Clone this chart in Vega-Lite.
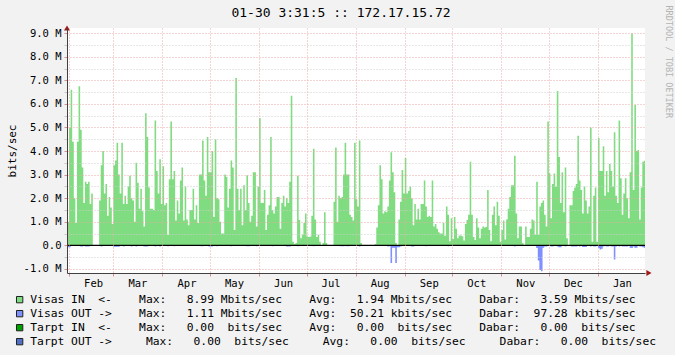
{
 "$schema": "https://vega.github.io/schema/vega-lite/v6.json",
 "width": 578,
 "height": 245,
 "autosize": {"type": "none"},
 "padding": {"left": 67, "top": 28, "right": 30, "bottom": 82},
 "background": "#f2f2f2",
 "config": {
  "view": {"fill": "#ffffff", "stroke": null},
  "font": "DejaVu Sans Mono",
  "axis": {"labelFont": "DejaVu Sans Mono", "titleFont": "DejaVu Sans Mono", "labelColor": "#000000", "titleColor": "#000000", "titleFontWeight": "normal"}
 },
 "title": {"text": "01-30 3:31:5 :: 172.17.15.72", "font": "DejaVu Sans Mono", "fontSize": 13, "fontWeight": "normal", "color": "#000000", "anchor": "middle", "dx": -15, "dy": 21, "offset": 6},
 "datasets": {
  "traffic": [
   {"t":"2013-01-30","i":2.35,"o":0},{"t":"2013-01-31","i":1.0,"o":-0.08},
   {"t":"2013-02-01","i":5.0,"o":-0.08},{"t":"2013-02-02","i":6.6,"o":-0.03},{"t":"2013-02-03","i":4.4,"o":0},{"t":"2013-02-04","i":2.0,"o":0},{"t":"2013-02-05","i":0.95,"o":0},{"t":"2013-02-06","i":4.4,"o":0},{"t":"2013-02-07","i":6.75,"o":0},{"t":"2013-02-08","i":4.9,"o":-0.05},{"t":"2013-02-09","i":3.3,"o":-0.05},{"t":"2013-02-10","i":1.8,"o":0},{"t":"2013-02-11","i":2.7,"o":-0.05},{"t":"2013-02-12","i":2.6,"o":-0.05},{"t":"2013-02-13","i":2.7,"o":-0.05},{"t":"2013-02-14","i":1.75,"o":0},{"t":"2013-02-15","i":2.2,"o":0},{"t":"2013-02-16","i":0,"o":0},{"t":"2013-02-17","i":0,"o":0},{"t":"2013-02-18","i":0,"o":0},{"t":"2013-02-19","i":0,"o":0},{"t":"2013-02-20","i":1.9,"o":0},{"t":"2013-02-21","i":3.4,"o":-0.05},{"t":"2013-02-22","i":4.0,"o":0},{"t":"2013-02-23","i":2.2,"o":0},{"t":"2013-02-24","i":2.6,"o":0},{"t":"2013-02-25","i":1.25,"o":0},{"t":"2013-02-26","i":2.05,"o":0},{"t":"2013-02-27","i":1.6,"o":0},{"t":"2013-02-28","i":0.9,"o":0},
   {"t":"2013-03-01","i":3.4,"o":-0.06},{"t":"2013-03-02","i":3.6,"o":-0.06},{"t":"2013-03-03","i":4.35,"o":-0.06},{"t":"2013-03-04","i":3.0,"o":-0.06},{"t":"2013-03-05","i":2.2,"o":0},{"t":"2013-03-06","i":4.35,"o":0},{"t":"2013-03-07","i":1.75,"o":-0.05},{"t":"2013-03-08","i":2.1,"o":0},{"t":"2013-03-09","i":1.75,"o":0},{"t":"2013-03-10","i":2.5,"o":0},{"t":"2013-03-11","i":2.95,"o":0},{"t":"2013-03-12","i":2.0,"o":-0.05},{"t":"2013-03-13","i":1.9,"o":0},{"t":"2013-03-14","i":1.0,"o":0},{"t":"2013-03-15","i":3.5,"o":-0.05},{"t":"2013-03-16","i":2.65,"o":0},{"t":"2013-03-17","i":1.55,"o":0},{"t":"2013-03-18","i":2.4,"o":0},{"t":"2013-03-19","i":1.45,"o":0},{"t":"2013-03-20","i":0.8,"o":-0.05},{"t":"2013-03-21","i":5.6,"o":-0.05},{"t":"2013-03-22","i":4.6,"o":-0.05},{"t":"2013-03-23","i":2.45,"o":0},{"t":"2013-03-24","i":1.55,"o":0},{"t":"2013-03-25","i":1.55,"o":0},{"t":"2013-03-26","i":1.5,"o":0},{"t":"2013-03-27","i":5.3,"o":-0.05},{"t":"2013-03-28","i":3.15,"o":0},{"t":"2013-03-29","i":2.2,"o":0},{"t":"2013-03-30","i":3.65,"o":-0.05},{"t":"2013-03-31","i":1.75,"o":0},
   {"t":"2013-04-01","i":3.35,"o":0},{"t":"2013-04-02","i":1.7,"o":0},{"t":"2013-04-03","i":1.8,"o":0},{"t":"2013-04-04","i":0.45,"o":-0.04},{"t":"2013-04-05","i":2.8,"o":0},{"t":"2013-04-06","i":5.25,"o":0},{"t":"2013-04-07","i":2.8,"o":0},{"t":"2013-04-08","i":3.15,"o":-0.04},{"t":"2013-04-09","i":1.05,"o":0},{"t":"2013-04-10","i":1.9,"o":0},{"t":"2013-04-11","i":1.35,"o":0},{"t":"2013-04-12","i":2.75,"o":0},{"t":"2013-04-13","i":3.3,"o":0},{"t":"2013-04-14","i":1.05,"o":0},{"t":"2013-04-15","i":2.5,"o":0},{"t":"2013-04-16","i":1.1,"o":0},{"t":"2013-04-17","i":0.85,"o":0},{"t":"2013-04-18","i":1.5,"o":0},{"t":"2013-04-19","i":1.5,"o":0},{"t":"2013-04-20","i":2.4,"o":0},{"t":"2013-04-21","i":1.1,"o":0},{"t":"2013-04-22","i":1.7,"o":0},{"t":"2013-04-23","i":0.95,"o":0},{"t":"2013-04-24","i":3.0,"o":0},{"t":"2013-04-25","i":3.0,"o":-0.04},{"t":"2013-04-26","i":4.45,"o":-0.04},{"t":"2013-04-27","i":2.75,"o":0},{"t":"2013-04-28","i":2.1,"o":0},{"t":"2013-04-29","i":4.6,"o":0},{"t":"2013-04-30","i":3.1,"o":-0.05},
   {"t":"2013-05-01","i":3.1,"o":-0.05},{"t":"2013-05-02","i":4.0,"o":-0.05},{"t":"2013-05-03","i":1.2,"o":0},{"t":"2013-05-04","i":4.5,"o":0},{"t":"2013-05-05","i":2.0,"o":-0.04},{"t":"2013-05-06","i":1.95,"o":0},{"t":"2013-05-07","i":1.0,"o":0},{"t":"2013-05-08","i":0.5,"o":0},{"t":"2013-05-09","i":0.5,"o":0},{"t":"2013-05-10","i":3.0,"o":0},{"t":"2013-05-11","i":2.9,"o":0},{"t":"2013-05-12","i":1.6,"o":0},{"t":"2013-05-13","i":2.4,"o":0},{"t":"2013-05-14","i":3.6,"o":-0.04},{"t":"2013-05-15","i":3.3,"o":0},{"t":"2013-05-16","i":0.65,"o":0},{"t":"2013-05-17","i":7.1,"o":0},{"t":"2013-05-18","i":2.4,"o":0},{"t":"2013-05-19","i":1.5,"o":0},{"t":"2013-05-20","i":2.4,"o":0},{"t":"2013-05-21","i":0.85,"o":0},{"t":"2013-05-22","i":2.55,"o":0},{"t":"2013-05-23","i":1.5,"o":0},{"t":"2013-05-24","i":2.97,"o":-0.04},{"t":"2013-05-25","i":1.8,"o":-0.04},{"t":"2013-05-26","i":1.0,"o":0},{"t":"2013-05-27","i":1.25,"o":0},{"t":"2013-05-28","i":3.1,"o":0},{"t":"2013-05-29","i":3.1,"o":0},{"t":"2013-05-30","i":0.8,"o":-0.04},{"t":"2013-05-31","i":2.5,"o":0},
   {"t":"2013-06-01","i":5.4,"o":0},{"t":"2013-06-02","i":1.8,"o":0},{"t":"2013-06-03","i":1.8,"o":0},{"t":"2013-06-04","i":2.35,"o":0},{"t":"2013-06-05","i":0.65,"o":0},{"t":"2013-06-06","i":1.3,"o":0},{"t":"2013-06-07","i":1.7,"o":0},{"t":"2013-06-08","i":4.6,"o":0},{"t":"2013-06-09","i":1.5,"o":-0.04},{"t":"2013-06-10","i":1.35,"o":0},{"t":"2013-06-11","i":1.65,"o":0},{"t":"2013-06-12","i":2.05,"o":0},{"t":"2013-06-13","i":2.05,"o":0},{"t":"2013-06-14","i":0.7,"o":0},{"t":"2013-06-15","i":1.8,"o":0},{"t":"2013-06-16","i":2.1,"o":0},{"t":"2013-06-17","i":1.65,"o":0},{"t":"2013-06-18","i":2.0,"o":-0.05},{"t":"2013-06-19","i":1.8,"o":-0.05},{"t":"2013-06-20","i":2.7,"o":-0.05},{"t":"2013-06-21","i":6.35,"o":0},{"t":"2013-06-22","i":0.15,"o":0},{"t":"2013-06-23","i":0.05,"o":0},{"t":"2013-06-24","i":0.1,"o":0},{"t":"2013-06-25","i":2.95,"o":-0.04},{"t":"2013-06-26","i":1.07,"o":0},{"t":"2013-06-27","i":0.3,"o":0},{"t":"2013-06-28","i":0.45,"o":0},{"t":"2013-06-29","i":0.95,"o":0},{"t":"2013-06-30","i":1.35,"o":0},
   {"t":"2013-07-01","i":0.37,"o":0},{"t":"2013-07-02","i":0.35,"o":0},{"t":"2013-07-03","i":0.37,"o":0},{"t":"2013-07-04","i":1.25,"o":0},{"t":"2013-07-05","i":4.1,"o":-0.04},{"t":"2013-07-06","i":1.1,"o":0},{"t":"2013-07-07","i":0.35,"o":0},{"t":"2013-07-08","i":0.45,"o":0},{"t":"2013-07-09","i":0.15,"o":0},{"t":"2013-07-10","i":0,"o":0},{"t":"2013-07-11","i":0.1,"o":0},{"t":"2013-07-12","i":1.4,"o":0},{"t":"2013-07-13","i":0.1,"o":0},{"t":"2013-07-14","i":0,"o":0},{"t":"2013-07-15","i":0,"o":0},{"t":"2013-07-16","i":0,"o":0},{"t":"2013-07-17","i":0,"o":0},{"t":"2013-07-18","i":1.85,"o":0},{"t":"2013-07-19","i":4.15,"o":0},{"t":"2013-07-20","i":1.0,"o":0},{"t":"2013-07-21","i":2.1,"o":0},{"t":"2013-07-22","i":2.0,"o":-0.04},{"t":"2013-07-23","i":2.05,"o":-0.04},{"t":"2013-07-24","i":3.0,"o":-0.04},{"t":"2013-07-25","i":4.35,"o":0},{"t":"2013-07-26","i":3.0,"o":-0.04},{"t":"2013-07-27","i":3.0,"o":-0.04},{"t":"2013-07-28","i":1.3,"o":0},{"t":"2013-07-29","i":1.2,"o":0},{"t":"2013-07-30","i":1.05,"o":0},{"t":"2013-07-31","i":4.35,"o":0},
   {"t":"2013-08-01","i":1.95,"o":0},{"t":"2013-08-02","i":1.65,"o":0},{"t":"2013-08-03","i":4.45,"o":-0.05},{"t":"2013-08-04","i":0.1,"o":0},{"t":"2013-08-05","i":0,"o":0},{"t":"2013-08-06","i":0,"o":0},{"t":"2013-08-07","i":0,"o":0},{"t":"2013-08-08","i":0,"o":0},{"t":"2013-08-09","i":0,"o":0},{"t":"2013-08-10","i":0,"o":0},{"t":"2013-08-11","i":0,"o":0},{"t":"2013-08-12","i":0,"o":0},{"t":"2013-08-13","i":0.05,"o":0},{"t":"2013-08-14","i":0.75,"o":0},{"t":"2013-08-15","i":1.7,"o":0},{"t":"2013-08-16","i":3.4,"o":0},{"t":"2013-08-17","i":2.8,"o":0},{"t":"2013-08-18","i":1.35,"o":0},{"t":"2013-08-19","i":1.45,"o":0},{"t":"2013-08-20","i":1.4,"o":0},{"t":"2013-08-21","i":1.65,"o":-0.05},{"t":"2013-08-22","i":2.75,"o":-0.04},{"t":"2013-08-23","i":3.95,"o":-0.75},{"t":"2013-08-24","i":3.1,"o":-0.1},{"t":"2013-08-25","i":2.25,"o":-0.1},{"t":"2013-08-26","i":0.1,"o":-0.75},{"t":"2013-08-27","i":0,"o":-0.08},{"t":"2013-08-28","i":1.1,"o":-0.08},{"t":"2013-08-29","i":1.85,"o":-0.05},{"t":"2013-08-30","i":3.2,"o":0},{"t":"2013-08-31","i":2.2,"o":0},
   {"t":"2013-09-01","i":3.7,"o":0},{"t":"2013-09-02","i":2.2,"o":0},{"t":"2013-09-03","i":2.3,"o":0},{"t":"2013-09-04","i":2.5,"o":0},{"t":"2013-09-05","i":2.0,"o":-0.05},{"t":"2013-09-06","i":0.85,"o":-0.05},{"t":"2013-09-07","i":1.75,"o":0},{"t":"2013-09-08","i":1.1,"o":0},{"t":"2013-09-09","i":1.55,"o":0},{"t":"2013-09-10","i":1.1,"o":0},{"t":"2013-09-11","i":1.75,"o":0},{"t":"2013-09-12","i":1.75,"o":0},{"t":"2013-09-13","i":2.75,"o":0},{"t":"2013-09-14","i":1.65,"o":-0.04},{"t":"2013-09-15","i":1.2,"o":0},{"t":"2013-09-16","i":1.25,"o":0},{"t":"2013-09-17","i":1.2,"o":0},{"t":"2013-09-18","i":2.75,"o":0},{"t":"2013-09-19","i":0.8,"o":0},{"t":"2013-09-20","i":0.9,"o":0},{"t":"2013-09-21","i":0.7,"o":0},{"t":"2013-09-22","i":0.55,"o":0},{"t":"2013-09-23","i":0.5,"o":0},{"t":"2013-09-24","i":0.5,"o":0},{"t":"2013-09-25","i":0.95,"o":0},{"t":"2013-09-26","i":0.4,"o":0},{"t":"2013-09-27","i":1.65,"o":0},{"t":"2013-09-28","i":1.3,"o":-0.04},{"t":"2013-09-29","i":0.17,"o":0},{"t":"2013-09-30","i":1.15,"o":0},
   {"t":"2013-10-01","i":0.27,"o":0},{"t":"2013-10-02","i":1.2,"o":0},{"t":"2013-10-03","i":0.7,"o":0},{"t":"2013-10-04","i":0.3,"o":0},{"t":"2013-10-05","i":0.42,"o":0},{"t":"2013-10-06","i":0.42,"o":0},{"t":"2013-10-07","i":0.38,"o":0},{"t":"2013-10-08","i":0.2,"o":0},{"t":"2013-10-09","i":0.9,"o":0},{"t":"2013-10-10","i":1.07,"o":0},{"t":"2013-10-11","i":1.3,"o":0},{"t":"2013-10-12","i":3.55,"o":0},{"t":"2013-10-13","i":1.3,"o":0},{"t":"2013-10-14","i":0.35,"o":0},{"t":"2013-10-15","i":0.22,"o":0},{"t":"2013-10-16","i":1.15,"o":0},{"t":"2013-10-17","i":0.75,"o":0},{"t":"2013-10-18","i":0.3,"o":0},{"t":"2013-10-19","i":0.7,"o":0},{"t":"2013-10-20","i":0.8,"o":0},{"t":"2013-10-21","i":0.75,"o":0},{"t":"2013-10-22","i":0.78,"o":0},{"t":"2013-10-23","i":2.35,"o":0},{"t":"2013-10-24","i":0.65,"o":0},{"t":"2013-10-25","i":0.17,"o":0},{"t":"2013-10-26","i":1.3,"o":0},{"t":"2013-10-27","i":1.65,"o":0},{"t":"2013-10-28","i":0.85,"o":0},{"t":"2013-10-29","i":1.85,"o":0},{"t":"2013-10-30","i":1.25,"o":0},{"t":"2013-10-31","i":0.15,"o":0},
   {"t":"2013-11-01","i":0.65,"o":0},{"t":"2013-11-02","i":1.05,"o":0},{"t":"2013-11-03","i":0.25,"o":0},{"t":"2013-11-04","i":1.1,"o":0},{"t":"2013-11-05","i":1.55,"o":0},{"t":"2013-11-06","i":2.05,"o":0},{"t":"2013-11-07","i":2.55,"o":0},{"t":"2013-11-08","i":2.55,"o":0},{"t":"2013-11-09","i":3.8,"o":-0.05},{"t":"2013-11-10","i":1.35,"o":0},{"t":"2013-11-11","i":0.3,"o":0},{"t":"2013-11-12","i":0.8,"o":0},{"t":"2013-11-13","i":0.8,"o":0},{"t":"2013-11-14","i":0.1,"o":0},{"t":"2013-11-15","i":0,"o":0},{"t":"2013-11-16","i":0.8,"o":0},{"t":"2013-11-17","i":0.35,"o":0},{"t":"2013-11-18","i":0.35,"o":0},{"t":"2013-11-19","i":0.7,"o":0},{"t":"2013-11-20","i":1.1,"o":0},{"t":"2013-11-21","i":1.05,"o":0},{"t":"2013-11-22","i":0.45,"o":0},{"t":"2013-11-23","i":2.7,"o":-0.12},{"t":"2013-11-24","i":0.45,"o":-0.65},{"t":"2013-11-25","i":1.65,"o":-1.05},{"t":"2013-11-26","i":1.8,"o":-1.1},{"t":"2013-11-27","i":1.9,"o":-0.1},{"t":"2013-11-28","i":1.3,"o":-0.05},{"t":"2013-11-29","i":0.8,"o":-0.05},{"t":"2013-11-30","i":5.25,"o":0},
   {"t":"2013-12-01","i":3.05,"o":0},{"t":"2013-12-02","i":1.15,"o":-0.05},{"t":"2013-12-03","i":2.6,"o":-0.05},{"t":"2013-12-04","i":3.05,"o":0},{"t":"2013-12-05","i":2.5,"o":0},{"t":"2013-12-06","i":6.55,"o":-0.05},{"t":"2013-12-07","i":3.75,"o":-0.08},{"t":"2013-12-08","i":1.8,"o":-0.08},{"t":"2013-12-09","i":3.1,"o":0},{"t":"2013-12-10","i":1.4,"o":0},{"t":"2013-12-11","i":3.3,"o":-0.05},{"t":"2013-12-12","i":0.3,"o":0},{"t":"2013-12-13","i":0,"o":0},{"t":"2013-12-14","i":1.7,"o":0},{"t":"2013-12-15","i":1.7,"o":-0.05},{"t":"2013-12-16","i":2.3,"o":-0.05},{"t":"2013-12-17","i":2.45,"o":-0.05},{"t":"2013-12-18","i":2.6,"o":-0.05},{"t":"2013-12-19","i":4.65,"o":0},{"t":"2013-12-20","i":2.75,"o":-0.05},{"t":"2013-12-21","i":2.35,"o":0},{"t":"2013-12-22","i":1.35,"o":-0.07},{"t":"2013-12-23","i":2.5,"o":-0.07},{"t":"2013-12-24","i":1.9,"o":-0.07},{"t":"2013-12-25","i":1.35,"o":0},{"t":"2013-12-26","i":1.65,"o":0},{"t":"2013-12-27","i":5.0,"o":-0.05},{"t":"2013-12-28","i":0.15,"o":0},{"t":"2013-12-29","i":2.1,"o":-0.05},{"t":"2013-12-30","i":2.45,"o":-0.05},{"t":"2013-12-31","i":0.15,"o":0},
   {"t":"2014-01-01","i":4.55,"o":-0.12},{"t":"2014-01-02","i":3.15,"o":-0.18},{"t":"2014-01-03","i":3.15,"o":-0.15},{"t":"2014-01-04","i":4.2,"o":-0.05},{"t":"2014-01-05","i":2.1,"o":0},{"t":"2014-01-06","i":3.15,"o":-0.05},{"t":"2014-01-07","i":2.25,"o":-0.05},{"t":"2014-01-08","i":3.45,"o":0},{"t":"2014-01-09","i":3.15,"o":-0.05},{"t":"2014-01-10","i":2.5,"o":-0.05},{"t":"2014-01-11","i":4.8,"o":-0.6},{"t":"2014-01-12","i":2.1,"o":-0.05},{"t":"2014-01-13","i":1.8,"o":0},{"t":"2014-01-14","i":5.3,"o":-0.05},{"t":"2014-01-15","i":2.85,"o":0},{"t":"2014-01-16","i":1.3,"o":-0.05},{"t":"2014-01-17","i":2.2,"o":-0.05},{"t":"2014-01-18","i":2.85,"o":-0.05},{"t":"2014-01-19","i":2.0,"o":-0.05},{"t":"2014-01-20","i":1.15,"o":0},{"t":"2014-01-21","i":3.1,"o":-0.1},{"t":"2014-01-22","i":8.99,"o":-0.12},{"t":"2014-01-23","i":2.35,"o":-0.05},{"t":"2014-01-24","i":5.95,"o":-0.1},{"t":"2014-01-25","i":4.0,"o":-0.1},{"t":"2014-01-26","i":4.05,"o":0},{"t":"2014-01-27","i":1.1,"o":-0.05},{"t":"2014-01-28","i":2.45,"o":-0.05},{"t":"2014-01-29","i":3.55,"o":-0.08},{"t":"2014-01-30","i":3.59,"o":-0.1},{"t":"2014-01-31","i":3.59,"o":-0.1}
  ]
 },
 "resolve": {"axis": {"y": "independent"}},
 "layer": [
  {
   "data": {"name": "traffic"},
   "mark": {"type": "area", "interpolate": "step-after", "opacity": 1, "clip": true},
   "encoding": {
    "x": {"field": "t", "type": "temporal",
     "scale": {"type": "utc", "domain": [{"year": 2013, "month": 1, "date": 30, "hours": 17, "utc": true}, {"year": 2014, "month": 1, "date": 30, "hours": 17, "utc": true}]},
     "axis": {
      "values": [{"year":2013,"month":2,"date":1,"utc":true},{"year":2013,"month":3,"date":1,"utc":true},{"year":2013,"month":4,"date":1,"utc":true},{"year":2013,"month":5,"date":1,"utc":true},{"year":2013,"month":6,"date":1,"utc":true},{"year":2013,"month":7,"date":1,"utc":true},{"year":2013,"month":8,"date":1,"utc":true},{"year":2013,"month":9,"date":1,"utc":true},{"year":2013,"month":10,"date":1,"utc":true},{"year":2013,"month":11,"date":1,"utc":true},{"year":2013,"month":12,"date":1,"utc":true},{"year":2014,"month":1,"date":1,"utc":true}],
      "labelExpr": "utcFormat(datum.value, '%b')",
      "labelOffset": 24, "labelFontSize": 10.5, "labelPadding": 2, "labelOverlap": false, "labelFlush": false,
      "tickSize": 3, "tickColor": "#d89090",
      "grid": true, "gridColor": "#eaa8a8", "gridDash": [1, 2], "gridOpacity": 1,
      "domainColor": "#404040", "domainWidth": 1,
      "title": null, "zindex": 1
     }
    },
    "y": {"field": "i", "type": "quantitative",
     "scale": {"domain": [-1.176, 9.223], "nice": false, "zero": false},
     "axis": {
      "values": [-1, -0.5, 0, 0.5, 1, 1.5, 2, 2.5, 3, 3.5, 4, 4.5, 5, 5.5, 6, 6.5, 7, 7.5, 8, 8.5, 9],
      "labelExpr": "datum.value % 1 != 0 ? '' : datum.value == 0 ? '0.0' : (datum.value < 0 ? '-' : '') + format(abs(datum.value), '.1f') + ' M'",
      "labelFontSize": 10.5, "labelPadding": 3,
      "tickSize": 3,
      "tickColor": {"condition": {"test": "datum.value % 1 != 0", "value": "#c8c8c8"}, "value": "#d89090"},
      "grid": true,
      "gridColor": {"condition": {"test": "datum.value % 1 != 0", "value": "#cfcfcf"}, "value": "#eaa8a8"},
      "gridOpacity": {"condition": {"test": "datum.value == 0", "value": 0}, "value": 1},
      "gridDash": [1, 2],
      "domainColor": "#404040",
      "title": "bits/sec", "titleFontSize": 11, "titleFontWeight": "normal", "titlePadding": 6,
      "zindex": 1
     }
    },
    "color": {"datum": "Visas IN",
     "scale": {"domain": ["Visas IN", "Visas OUT", "Tarpt IN", "Tarpt OUT"], "range": ["#80dc80", "#7f8fff", "#00a000", "#5070c8"]},
     "legend": {
      "orient": "none", "legendX": -53, "legendY": 266, "direction": "vertical", "title": null,
      "symbolType": "square", "symbolSize": 40, "symbolStrokeColor": "#202020", "symbolStrokeWidth": 1, "symbolOpacity": 1,
      "labelFont": "DejaVu Sans Mono", "labelFontSize": 11.3, "labelColor": "#000000", "labelOffset": 5, "labelLimit": 1000,
      "rowPadding": 2, "padding": 0,
      "labelExpr": "datum.label == 'Visas IN' ? 'Visas\u00a0IN\u00a0\u00a0<-\u00a0\u00a0\u00a0\u00a0Max:\u00a0\u00a0\u00a08.99\u00a0Mbits/sec\u00a0\u00a0\u00a0\u00a0Avg:\u00a0\u00a0\u00a01.94\u00a0Mbits/sec\u00a0\u00a0\u00a0\u00a0Dabar:\u00a0\u00a0\u00a03.59\u00a0Mbits/sec' : datum.label == 'Visas OUT' ? 'Visas\u00a0OUT\u00a0->\u00a0\u00a0\u00a0\u00a0Max:\u00a0\u00a0\u00a01.11\u00a0Mbits/sec\u00a0\u00a0\u00a0\u00a0Avg:\u00a0\u00a050.21\u00a0kbits/sec\u00a0\u00a0\u00a0\u00a0Dabar:\u00a0\u00a097.28\u00a0kbits/sec' : datum.label == 'Tarpt IN' ? 'Tarpt\u00a0IN\u00a0\u00a0<-\u00a0\u00a0\u00a0\u00a0Max:\u00a0\u00a0\u00a00.00\u00a0\u00a0bits/sec\u00a0\u00a0\u00a0\u00a0Avg:\u00a0\u00a0\u00a00.00\u00a0\u00a0bits/sec\u00a0\u00a0\u00a0\u00a0Dabar:\u00a0\u00a0\u00a00.00\u00a0\u00a0bits/sec' : 'Tarpt\u00a0OUT\u00a0->\u00a0\u00a0\u00a0\u00a0\u00a0Max:\u00a0\u00a0\u00a00.00\u00a0\u00a0bits/sec\u00a0\u00a0\u00a0\u00a0\u00a0Avg:\u00a0\u00a0\u00a00.00\u00a0\u00a0bits/sec\u00a0\u00a0\u00a0\u00a0\u00a0Dabar:\u00a0\u00a0\u00a00.00\u00a0\u00a0bits/sec'"
     }
    }
   }
  },
  {
   "data": {"name": "traffic"},
   "mark": {"type": "area", "interpolate": "step-after", "opacity": 1, "clip": true},
   "encoding": {
    "x": {"field": "t", "type": "temporal", "scale": {"type": "utc", "domain": [{"year": 2013, "month": 1, "date": 30, "hours": 17, "utc": true}, {"year": 2014, "month": 1, "date": 30, "hours": 17, "utc": true}]}},
    "y": {"field": "o", "type": "quantitative", "scale": {"domain": [-1.176, 9.223], "nice": false, "zero": false}, "axis": null},
    "color": {"datum": "Visas OUT"}
   }
  },
  {
   "data": {"values": [{}]},
   "mark": {"type": "rule", "color": "#000000", "strokeWidth": 1.2},
   "encoding": {
    "y": {"datum": 0, "type": "quantitative", "scale": {"domain": [-1.176, 9.223], "nice": false, "zero": false},
     "axis": {"orient": "right", "title": "RRDTOOL / TOBI OETIKER", "labels": false, "ticks": false, "domain": false, "grid": false,
      "titleAngle": 90, "titleFont": "DejaVu Sans Mono", "titleFontSize": 8.5, "titleFontWeight": "normal", "titleColor": "#b4b4b4",
      "titleX": 23, "titleY": -23, "titleAlign": "left", "titleBaseline": "middle", "titlePadding": 0}
    }
   }
  },
  {
   "data": {"values": [{}]},
   "mark": {"type": "point", "shape": "triangle-up", "filled": true, "size": 36, "color": "#a01818", "opacity": 1, "clip": false},
   "encoding": {
    "x": {"datum": {"year": 2013, "month": 1, "date": 30, "hours": 17, "utc": true}, "type": "temporal", "scale": {"type": "utc", "domain": [{"year": 2013, "month": 1, "date": 30, "hours": 17, "utc": true}, {"year": 2014, "month": 1, "date": 30, "hours": 17, "utc": true}]}},
    "y": {"datum": 9.223, "type": "quantitative", "scale": {"domain": [-1.176, 9.223], "nice": false, "zero": false}, "axis": null}
   }
  },
  {
   "data": {"values": [{}]},
   "mark": {"type": "point", "shape": "triangle-right", "filled": true, "size": 36, "color": "#a01818", "opacity": 1, "clip": false},
   "encoding": {
    "x": {"datum": {"year": 2014, "month": 2, "date": 2, "hours": 5, "utc": true}, "type": "temporal", "scale": {"type": "utc", "domain": [{"year": 2013, "month": 1, "date": 30, "hours": 17, "utc": true}, {"year": 2014, "month": 1, "date": 30, "hours": 17, "utc": true}]}},
    "y": {"datum": -1.176, "type": "quantitative", "scale": {"domain": [-1.176, 9.223], "nice": false, "zero": false}, "axis": null}
   }
  }
 ]
}
